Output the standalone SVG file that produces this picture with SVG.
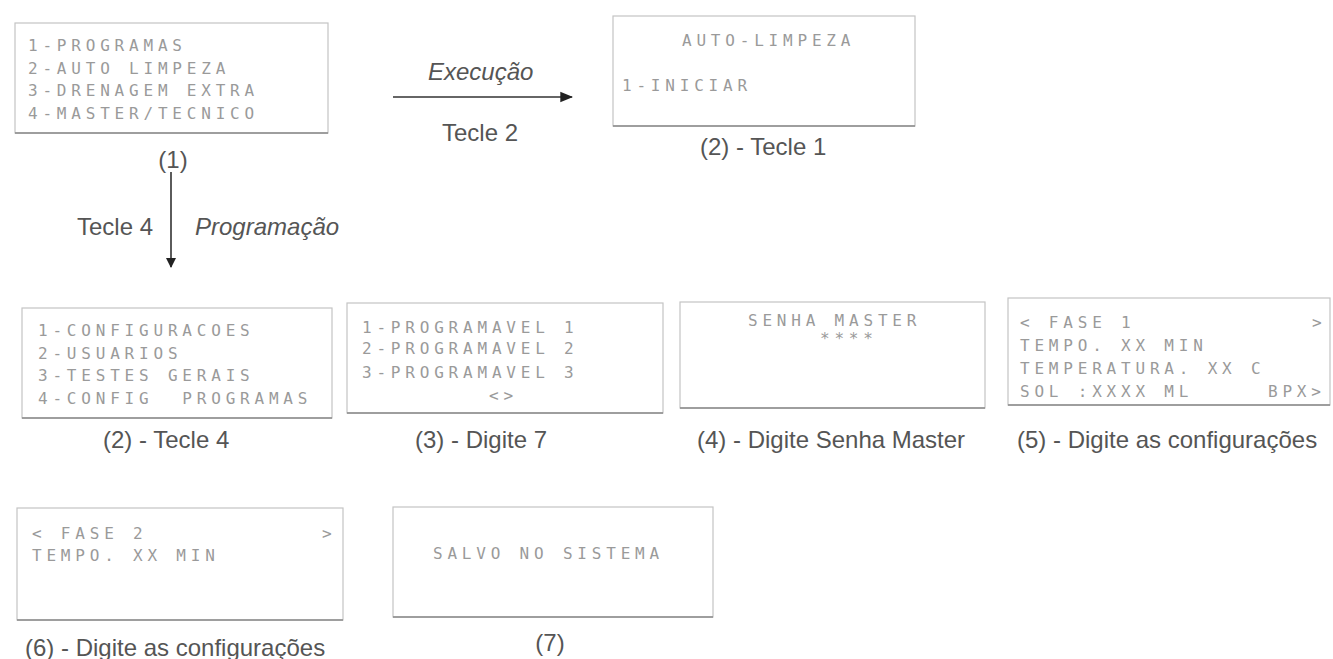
<svg xmlns="http://www.w3.org/2000/svg" width="1333" height="659" viewBox="0 0 1333 659">
<defs>
<style>
.box{fill:#fff;stroke:#c4c4c4;stroke-width:1.2}
.base{stroke:#8a8a8a;stroke-width:1.4}
.lcd{font-family:"DejaVu Sans Mono","Liberation Mono",monospace;font-size:16px;letter-spacing:4.8px;fill:#9a9a9a;white-space:pre}
.cap{font-family:"Liberation Sans",Arial,sans-serif;font-size:24px;fill:#555}
.lab{font-family:"Liberation Sans",Arial,sans-serif;font-size:24px;fill:#555}
.it{font-style:italic}
.conn{stroke:#333;stroke-width:1.6;fill:none}
</style>
<marker id="ah" viewBox="0 0 10 10" refX="9" refY="5" markerWidth="10" markerHeight="10" orient="auto" markerUnits="userSpaceOnUse">
<path d="M0,0 L10,5 L0,10 z" fill="#222"/>
</marker>
<marker id="ah2" viewBox="0 0 10 10" refX="9" refY="5" markerWidth="13" markerHeight="13" orient="auto" markerUnits="userSpaceOnUse">
<path d="M0,1 L10,5 L0,9 z" fill="#222"/>
</marker>
</defs>
<rect width="1333" height="659" fill="#fff"/>

<g id="connectors">
<line class="conn" x1="393" y1="97" x2="572" y2="97" marker-end="url(#ah2)"/>
<line class="conn" x1="171" y1="172" x2="171" y2="267" marker-end="url(#ah)"/>
<text class="lab it" x="428" y="80">Execução</text>
<text class="lab" x="442" y="141">Tecle 2</text>
<text class="lab" x="77" y="235">Tecle 4</text>
<text class="lab it" x="195" y="235">Programação</text>
</g>

<g id="node1">
<rect class="box" x="15" y="23" width="313" height="110"/>
<line class="base" x1="15" y1="133" x2="328" y2="133"/>
<text class="lcd" x="28" y="51">1-PROGRAMAS</text>
<text class="lcd" x="28" y="74">2-AUTO LIMPEZA</text>
<text class="lcd" x="28" y="96">3-DRENAGEM EXTRA</text>
<text class="lcd" x="28" y="119">4-MASTER/TECNICO</text>
<text class="cap" x="173" y="168" text-anchor="middle">(1)</text>
</g>

<g id="node2a">
<rect class="box" x="613" y="16" width="302" height="110"/>
<line class="base" x1="613" y1="126" x2="915" y2="126"/>
<text class="lcd" x="682" y="46">AUTO-LIMPEZA</text>
<text class="lcd" x="622" y="91">1-INICIAR</text>
<text class="cap" x="700" y="155">(2) - Tecle 1</text>
</g>

<g id="node2b">
<rect class="box" x="22" y="308" width="310" height="110"/>
<line class="base" x1="22" y1="418" x2="332" y2="418"/>
<text class="lcd" x="38" y="336">1-CONFIGURACOES</text>
<text class="lcd" x="38" y="359">2-USUARIOS</text>
<text class="lcd" x="38" y="381">3-TESTES GERAIS</text>
<text class="lcd" x="38" y="404">4-CONFIG  PROGRAMAS</text>
<text class="cap" x="103" y="448">(2) - Tecle 4</text>
</g>

<g id="node3">
<rect class="box" x="347" y="303" width="316" height="110"/>
<line class="base" x1="347" y1="413" x2="663" y2="413"/>
<text class="lcd" x="362" y="333">1-PROGRAMAVEL 1</text>
<text class="lcd" x="362" y="354">2-PROGRAMAVEL 2</text>
<text class="lcd" x="362" y="378">3-PROGRAMAVEL 3</text>
<text class="lcd" x="489" y="401">&lt;&gt;</text>
<text class="cap" x="481" y="448" text-anchor="middle">(3) - Digite 7</text>
</g>

<g id="node4">
<rect class="box" x="680" y="302" width="305" height="106"/>
<line class="base" x1="680" y1="408" x2="985" y2="408"/>
<text class="lcd" x="748" y="326">SENHA MASTER</text>
<text class="lcd" x="820" y="344">****</text>
<text class="cap" x="697" y="448">(4) - Digite Senha Master</text>
</g>

<g id="node5">
<rect class="box" x="1008" y="298" width="322" height="107"/>
<line class="base" x1="1008" y1="405" x2="1330" y2="405"/>
<text class="lcd" x="1020" y="328">&lt; FASE 1</text>
<text class="lcd" x="1312" y="328">&gt;</text>
<text class="lcd" x="1020" y="351">TEMPO. XX MIN</text>
<text class="lcd" x="1020" y="374">TEMPERATURA. XX C</text>
<text class="lcd" x="1020" y="397">SOL :XXXX ML</text>
<text class="lcd" x="1268" y="397">BPX&gt;</text>
<text class="cap" x="1017" y="448">(5) - Digite as configurações</text>
</g>

<g id="node6">
<rect class="box" x="17" y="508" width="326" height="112"/>
<line class="base" x1="17" y1="620" x2="343" y2="620"/>
<text class="lcd" x="32" y="539">&lt; FASE 2</text>
<text class="lcd" x="322" y="539">&gt;</text>
<text class="lcd" x="32" y="561">TEMPO. XX MIN</text>
<text class="cap" x="25" y="656">(6) - Digite as configurações</text>
</g>

<g id="node7">
<rect class="box" x="393" y="507" width="320" height="110"/>
<line class="base" x1="393" y1="617" x2="713" y2="617"/>
<text class="lcd" x="433" y="559">SALVO NO SISTEMA</text>
<text class="cap" x="550" y="651" text-anchor="middle">(7)</text>
</g>
</svg>
